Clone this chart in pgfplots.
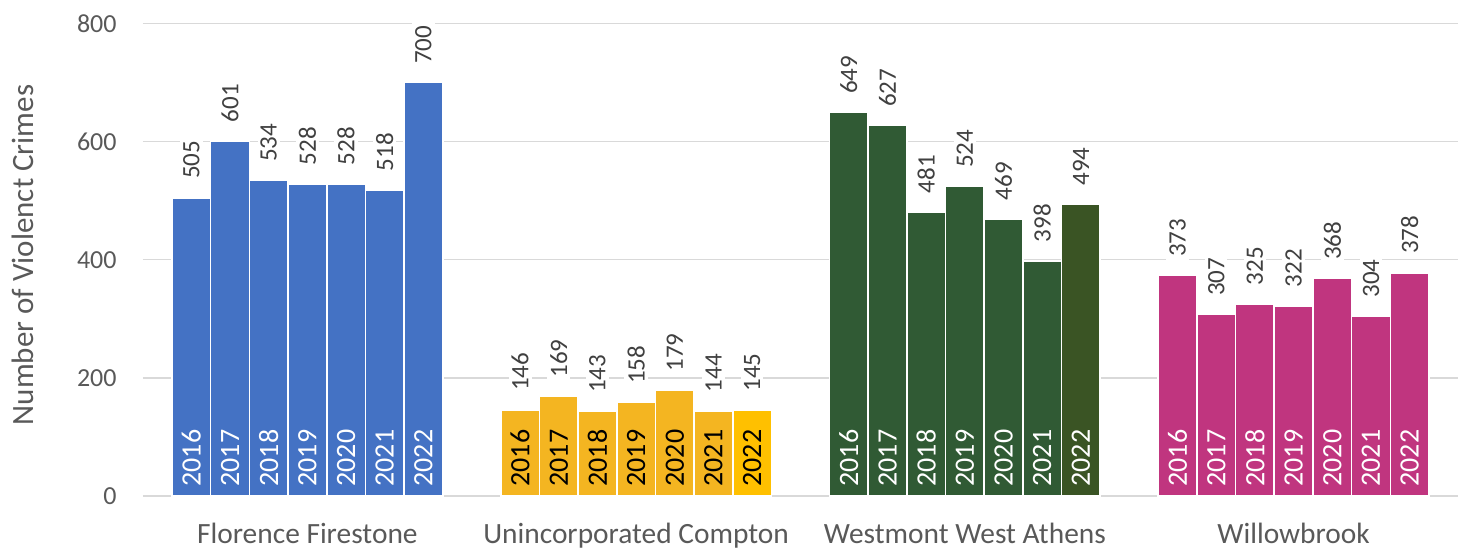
\documentclass[border=0pt]{standalone}
\usepackage{pgfplots}
\pgfplotsset{compat=1.18}
\usepackage{pgfplotstable}
\usepackage{fontspec}
\setmainfont{Carlito}
\definecolor{cblue}{HTML}{4472C4}
\definecolor{cyel}{HTML}{F4B521}
\definecolor{cyel2}{HTML}{FFC000}
\definecolor{cgreen}{HTML}{305A34}
\definecolor{cgreen2}{HTML}{3A5424}
\definecolor{cmag}{HTML}{C0357F}
\definecolor{gridgrey}{HTML}{D9D9D9}
\definecolor{txtgrey}{HTML}{595959}
\definecolor{valgrey}{HTML}{404040}

\pgfplotstableread{
x y base yr
-3 505 0 2016
-2 601 0 2017
-1 534 0 2018
0 528 0 2019
1 528 0 2020
2 518 0 2021
3 700 0 2022
}\ff
\pgfplotstableread{
x y base yr
5.5 146 0 2016
6.5 169 0 2017
7.5 143 0 2018
8.5 158 0 2019
9.5 179 0 2020
10.5 144 0 2021
}\uc
\pgfplotstableread{
x y base yr
11.5 145 0 2022
}\uctwo
\pgfplotstableread{
x y base yr
14 649 0 2016
15 627 0 2017
16 481 0 2018
17 524 0 2019
18 469 0 2020
19 398 0 2021
}\wwa
\pgfplotstableread{
x y base yr
20 494 0 2022
}\wwatwo
\pgfplotstableread{
x y base yr
22.5 373 0 2016
23.5 307 0 2017
24.5 325 0 2018
25.5 322 0 2019
26.5 368 0 2020
27.5 304 0 2021
28.5 378 0 2022
}\wb

\pgfplotsset{
  valbar/.style={ybar, bar width=1, bar shift=0pt, draw=white, line width=0.8pt, fill=#1,
    nodes near coords,
    nodes near coords style={yshift=7.5pt, rotate=90, anchor=west, fill=white, inner sep=1.5pt,
      text=valgrey, font=\fontsize{12.5}{13}\selectfont}},
  yearlab/.style={draw=none, mark=none, nodes near coords, point meta=explicit symbolic,
    nodes near coords style={yshift=4.5pt, rotate=90, anchor=west, inner sep=0pt,
      text=#1, font=\fontsize{14}{15}\selectfont}},
}

\begin{document}
\begin{tikzpicture}
\begin{axis}[name=ax, scale only axis, width=657.5pt, height=236.25pt,
  xmin=-4.25, xmax=29.75, ymin=0, ymax=800,
  ytick={0,200,400,600,800},
  xtick={0,8.5,17,25.5},
  xticklabels={Florence Firestone, Unincorporated Compton, Westmont West Athens, Willowbrook},
  ymajorgrids, grid style={draw=gridgrey, line width=0.75pt},
  axis line style={draw=none}, tick style={draw=none},
  /pgf/number format/assume math mode=true,
  yticklabel style={anchor=east, inner sep=0pt, xshift=-13pt, text=txtgrey, font=\fontsize{13}{14}\selectfont},
  xticklabel style={anchor=north, inner sep=0pt, yshift=-13.5pt, text=txtgrey, font=\fontsize{14.7}{15}\selectfont},
  ylabel={Number of Violenct Crimes},
  ylabel style={at={(axis description cs:-0.0913,0.51)}, anchor=center, text=txtgrey, font=\fontsize{15.5}{16}\selectfont},
  clip=false,
]
\addplot[valbar=cblue] table[x=x, y=y] {\ff};
\addplot[valbar=cyel] table[x=x, y=y] {\uc};
\addplot[valbar=cyel2] table[x=x, y=y] {\uctwo};
\addplot[valbar=cgreen] table[x=x, y=y] {\wwa};
\addplot[valbar=cgreen2] table[x=x, y=y] {\wwatwo};
\addplot[valbar=cmag] table[x=x, y=y] {\wb};

\addplot[yearlab=white] table[x=x, y=base, meta=yr] {\ff};
\addplot[yearlab=black] table[x=x, y=base, meta=yr] {\uc};
\addplot[yearlab=black] table[x=x, y=base, meta=yr] {\uctwo};
\addplot[yearlab=white] table[x=x, y=base, meta=yr] {\wwa};
\addplot[yearlab=white] table[x=x, y=base, meta=yr] {\wwatwo};
\addplot[yearlab=white] table[x=x, y=base, meta=yr] {\wb};
\end{axis}
\path[use as bounding box] ([shift={(-71.5pt,-26pt)}]ax.south west) rectangle ([shift={(2.5pt,11.75pt)}]ax.north east);
\end{tikzpicture}
\end{document}
